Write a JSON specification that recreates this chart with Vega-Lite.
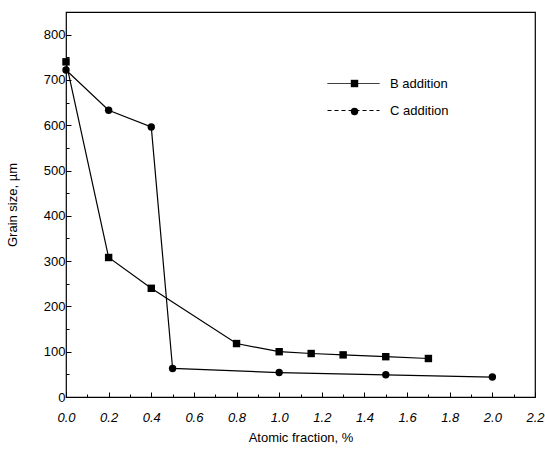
{
  "$schema": "https://vega.github.io/schema/vega-lite/v6.json",
  "width": 469,
  "height": 385,
  "autosize": {"type": "none"},
  "padding": {"left": 66, "top": 12, "right": 10, "bottom": 57},
  "background": "white",
  "config": {
    "font": "Liberation Sans",
    "view": {"stroke": "black", "strokeWidth": 1.2},
    "axis": {
      "domain": false,
      "grid": false,
      "tickColor": "black",
      "tickWidth": 1,
      "labelColor": "black",
      "labelFontSize": 13,
      "titleColor": "black",
      "titleFontSize": 13,
      "titleFontWeight": "normal"
    }
  },
  "data": {
    "values": [
      {"series": "B addition", "x": 0.0, "size": 740},
      {"series": "B addition", "x": 0.2, "size": 308},
      {"series": "B addition", "x": 0.4, "size": 240},
      {"series": "B addition", "x": 0.8, "size": 118},
      {"series": "B addition", "x": 1.0, "size": 100},
      {"series": "B addition", "x": 1.15, "size": 96},
      {"series": "B addition", "x": 1.3, "size": 93},
      {"series": "B addition", "x": 1.5, "size": 89},
      {"series": "B addition", "x": 1.7, "size": 85},
      {"series": "C addition", "x": 0.0, "size": 722},
      {"series": "C addition", "x": 0.2, "size": 633},
      {"series": "C addition", "x": 0.4, "size": 596},
      {"series": "C addition", "x": 0.5, "size": 63},
      {"series": "C addition", "x": 1.0, "size": 54},
      {"series": "C addition", "x": 1.5, "size": 49},
      {"series": "C addition", "x": 2.0, "size": 44}
    ]
  },
  "layer": [
    {
      "mark": {"type": "line", "color": "black", "strokeWidth": 1.2},
      "encoding": {
        "x": {
          "field": "x", "type": "quantitative",
          "scale": {"domain": [0, 2.2], "nice": false},
          "axis": {
            "orient": "bottom",
            "values": [0, 0.2, 0.4, 0.6, 0.8, 1.0, 1.2, 1.4, 1.6, 1.8, 2.0, 2.2],
            "format": ".1f",
            "labelFlush": false,
            "labelFontStyle": "italic",
            "tickSize": -5,
            "labelPadding": 19,
            "title": "Atomic fraction, %",
            "titlePadding": 7
          }
        },
        "y": {
          "field": "size", "type": "quantitative",
          "scale": {"domain": [0, 850], "nice": false},
          "axis": {
            "orient": "left",
            "values": [0, 100, 200, 300, 400, 500, 600, 700, 800],
            "labelFlush": false,
            "tickSize": -5,
            "labelPadding": 6,
            "title": "Grain size, µm",
            "titlePadding": 24
          }
        },
        "detail": {"field": "series"}
      }
    },
    {
      "transform": [{"filter": "datum.x < 0"}],
      "mark": {"type": "line", "color": "black", "strokeWidth": 1},
      "encoding": {
        "x": {"field": "x", "type": "quantitative", "axis": null},
        "y": {"field": "size", "type": "quantitative", "axis": null},
        "strokeDash": {
          "field": "series", "type": "nominal",
          "scale": {"domain": ["B addition", "C addition"], "range": [[1, 0], [4, 3]]},
          "legend": {
            "title": null,
            "orient": "none",
            "legendX": 281,
            "legendY": 65,
            "padding": 0,
            "symbolType": "M-5.2,0H5.2",
            "symbolSize": 100,
            "symbolStrokeColor": "black",
            "symbolStrokeWidth": 1,
            "symbolOpacity": 1,
            "labelOffset": 30,
            "labelFontSize": 13,
            "labelColor": "black",
            "rowPadding": 13
          }
        }
      }
    },
    {
      "mark": {"type": "point", "filled": true, "color": "black", "opacity": 1},
      "encoding": {
        "x": {
          "field": "x", "type": "quantitative",
          "axis": {
            "orient": "bottom",
            "values": [0.1, 0.3, 0.5, 0.7, 0.9, 1.1, 1.3, 1.5, 1.7, 1.9, 2.1],
            "labels": false,
            "tickSize": -3,
            "title": null
          }
        },
        "y": {
          "field": "size", "type": "quantitative",
          "axis": {
            "orient": "left",
            "values": [50, 150, 250, 350, 450, 550, 650, 750],
            "labels": false,
            "tickSize": -3,
            "title": null
          }
        },
        "shape": {
          "field": "series", "type": "nominal",
          "scale": {"range": ["square", "circle"]},
          "legend": {
            "title": null,
            "orient": "none",
            "legendX": 282,
            "legendY": 65,
            "padding": 0,
            "symbolSize": 55,
            "symbolFillColor": "black",
            "symbolStrokeColor": "black",
            "symbolOpacity": 1,
            "labelOffset": 30,
            "labelFontSize": 13,
            "labelColor": "black",
            "labelOpacity": 0,
            "rowPadding": 13
          }
        },
        "size": {"value": 55}
      }
    }
  ],
  "resolve": {"axis": {"x": "independent", "y": "independent"}}
}
